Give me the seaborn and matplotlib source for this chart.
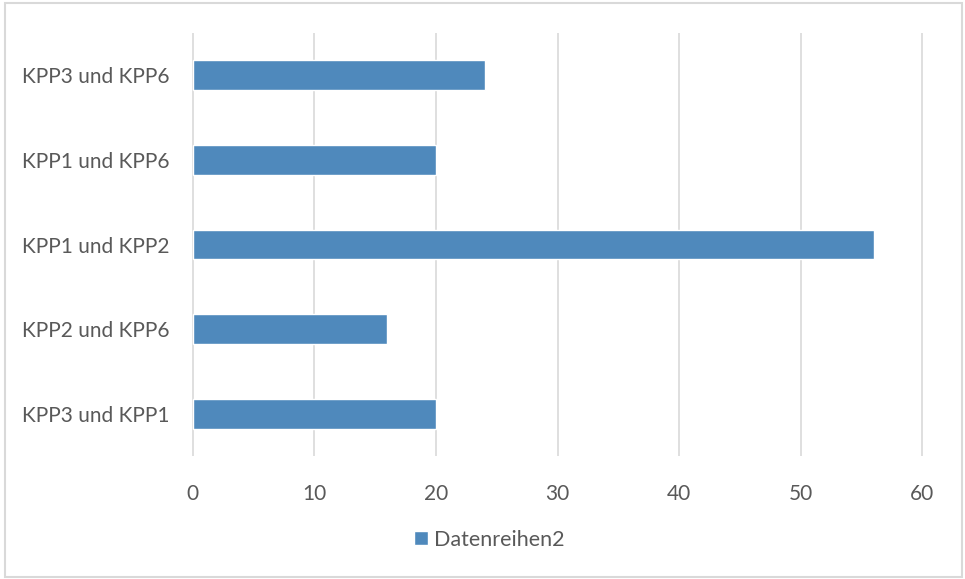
import pandas as pd
import matplotlib.pyplot as plt
import seaborn as sns
from matplotlib.patches import Rectangle

# Daten (von oben nach unten)
kategorien = ['KPP3 und KPP6', 'KPP1 und KPP6', 'KPP1 und KPP2', 'KPP2 und KPP6', 'KPP3 und KPP1']
werte = [24, 20, 56, 16, 20]
serie = 'Datenreihen2'
x_ticks = [0, 10, 20, 30, 40, 50, 60]

df = pd.DataFrame({'Kategorie': kategorien, 'Wert': werte, 'Serie': serie})

sns.set_style('white')
plt.rcParams['font.family'] = ['Lato', 'DejaVu Sans']
text_farbe = '#595959'
gitter_farbe = '#d9d9d9'

fig = plt.figure(figsize=(9.65, 5.79), dpi=100)
ax = fig.add_axes([0.199, 0.2124, 0.7575, 0.7306])

sns.barplot(data=df, x='Wert', y='Kategorie', hue='Serie', orient='h',
            palette=['#4f89bc'], saturation=1, width=0.35, dodge=False, ax=ax)

ax.set_xlim(-0.05, 60.05)
ax.set_xticks(x_ticks)
ax.set_xlabel('')
ax.set_ylabel('')
ax.xaxis.grid(True, color=gitter_farbe, linewidth=1.2)
ax.set_axisbelow(True)
for s in ax.spines.values():
    s.set_visible(False)
ax.tick_params(axis='both', length=0, labelsize=15, labelcolor=text_farbe)
ax.tick_params(axis='x', pad=20)
ax.tick_params(axis='y', pad=16)

leg = ax.get_legend()
leg.remove()
fig.legend(handles=leg.legend_handles, labels=[serie], loc='center',
           bbox_to_anchor=(0.507, 0.068), frameon=False, fontsize=15.5,
           labelcolor=text_farbe, handlelength=0.65, handleheight=0.65,
           handletextpad=0.3)

# Rahmen um das Diagramm
fig.patches.append(Rectangle((0.005, 0.003), 0.992, 0.992, transform=fig.transFigure,
                             fill=False, edgecolor=gitter_farbe, linewidth=1.5))

fig.savefig('out.png', dpi=100)
